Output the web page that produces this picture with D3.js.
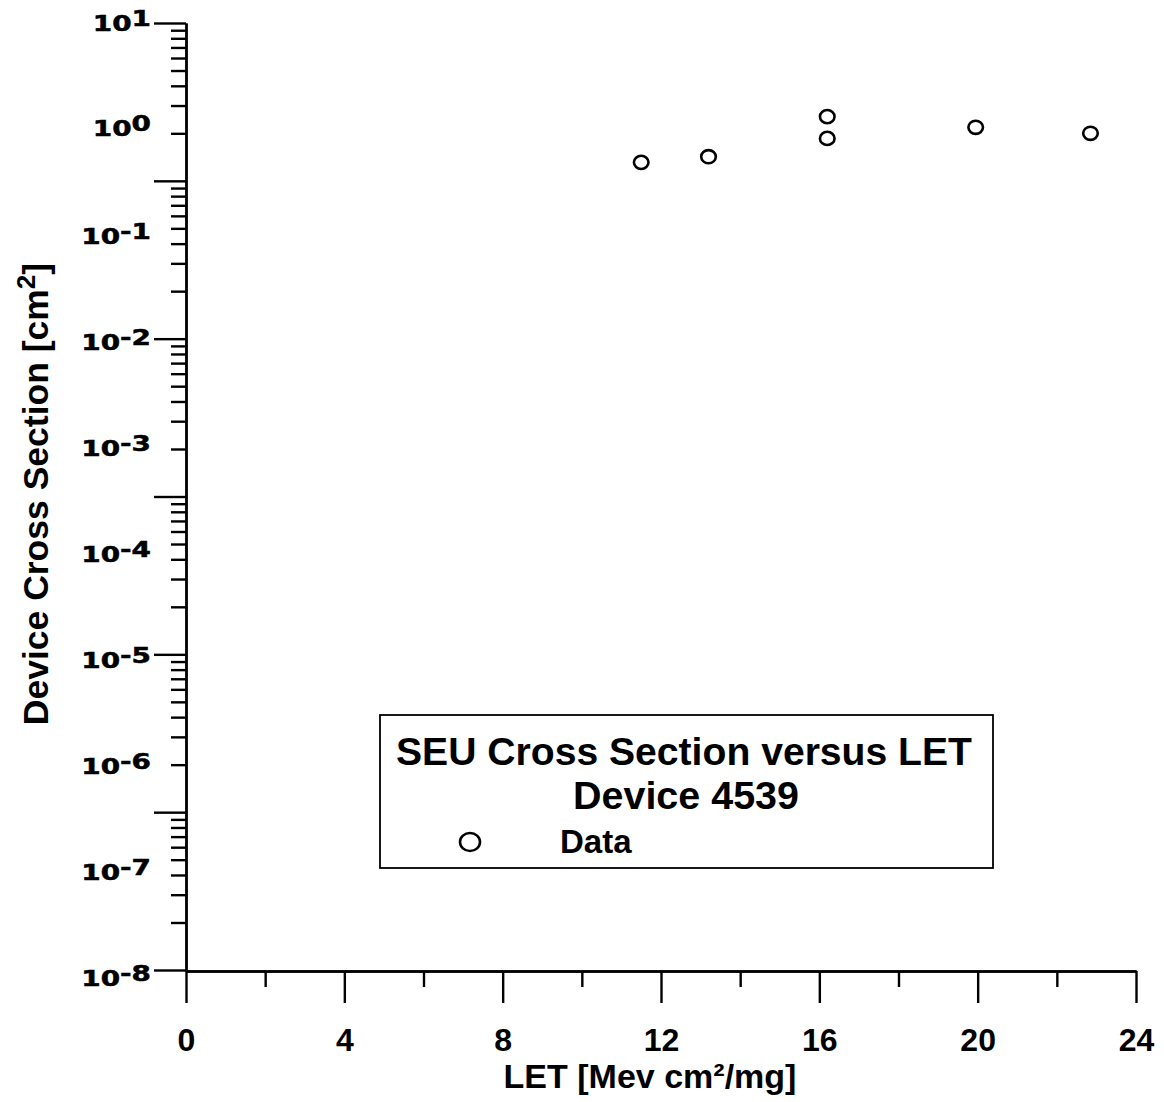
<!doctype html>
<html>
<head>
  <meta charset="UTF-8">
  <style>
    body { margin: 0; background: #fff; }
    svg { display: block; }
    .axis path, .axis line { stroke: #000; stroke-width: 2.4; }
    .xlab { font-family: "Liberation Sans", Arial, sans-serif; font-weight: bold; }
    .ylab { font-family: "DejaVu Sans", Verdana, sans-serif; font-weight: bold; stroke: #000; stroke-width: 0.5; }
  </style>
</head>
<body>
<svg width="1164" height="1102"></svg>
<script src="https://d3js.org/d3.v7.min.js"></script>
<script>

// data
const letValues = [11.5, 13.2, 16.2, 16.2, 19.95, 22.85];
const crossSection = [0.474, 0.536, 1.29, 0.80, 1.02, 0.895];

// axis ticks
const xMajorTicks = [0, 4, 8, 12, 16, 20, 24];
const xMinorTicks = [2, 6, 10, 14, 18, 22];
const yLabelExponents = [1, 0, -1, -2, -3, -4, -5, -6, -7, -8];
const yMajorExponents = [1, -0.5, -2, -3.5, -5, -6.5, -8];

const legendTitle = ["SEU Cross Section versus LET", "Device 4539"];
const legendItem = "Data";

var svg = d3.select("svg");

var x = d3.scaleLinear().domain([0, 24]).range([186, 1136]);
var y = d3.scaleLog().domain([1e-8, 1e1]).range([970, 23]);

// minor ticks: log subdivision of each 1.5 decade major step
var yMinor = [];
yMajorExponents.slice(1).forEach(function(lo) {
  for (var k = 2; k <= 9; k++) yMinor.push(Math.pow(10, lo + 1.5 * Math.log10(k)));
});

// y axis
svg.append("g").attr("class", "axis")
  .attr("transform", "translate(" + x(0) + ",0)")
  .call(d3.axisLeft(y).tickValues(yMinor).tickSize(15).tickSizeOuter(0).tickFormat(""));
svg.append("g").attr("class", "axis")
  .attr("transform", "translate(" + x(0) + ",0)")
  .call(d3.axisLeft(y).tickValues(yMajorExponents.map(e => Math.pow(10, e))).tickSize(32).tickSizeOuter(0).tickFormat(""));

// x axis
var xa = svg.append("g").attr("class", "axis")
  .attr("transform", "translate(0," + (y(1e-8) + 1) + ")")
  .call(d3.axisBottom(x).tickValues(xMinorTicks).tickSize(16).tickSizeOuter(0).tickFormat(""));
var xb = svg.append("g").attr("class", "axis")
  .attr("transform", "translate(0," + (y(1e-8) + 1) + ")")
  .call(d3.axisBottom(x).tickValues(xMajorTicks).tickSize(32).tickSizeOuter(0).tickFormat(d3.format("d")));
xb.selectAll("text")
  .attr("class", "xlab")
  .attr("y", 80).attr("dy", 0)
  .style("font-size", "32px")
  .attr("fill", "#000");

// y tick labels 10^n
var ylabs = svg.append("g").selectAll("text")
  .data(yLabelExponents)
  .enter().append("text")
  .attr("class", "ylab")
  .attr("text-anchor", "end")
  .style("font-size", "20.5px")
  .attr("transform", function(d) {
    var off = d >= 0 ? 7.5 : 9.5 + 0.85 * (-d);
    return "translate(151," + (y(Math.pow(10, d)) + off) + ") scale(1.36,1)";
  });
ylabs.append("tspan").text("10");
ylabs.append("tspan").attr("dy", -5).text(function(d) { return d; });

// axis titles
svg.append("text")
  .attr("class", "xlab")
  .attr("x", 650).attr("y", 1088)
  .attr("text-anchor", "middle")
  .style("font-size", "34px")
  .text("LET [Mev cm\u00b2/mg]");

var yt = svg.append("text")
  .attr("class", "xlab")
  .attr("text-anchor", "middle")
  .attr("transform", "translate(48,494) rotate(-90)")
  .style("font-size", "35.5px");
yt.append("tspan").text("Device Cross Section [cm");
yt.append("tspan").attr("dy", -13).style("font-size", "26px").text("2");
yt.append("tspan").attr("dy", 13).text("]");

// data points
svg.append("g").selectAll("ellipse")
  .data(letValues)
  .enter().append("ellipse")
  .attr("cx", function(d) { return x(d); })
  .attr("cy", function(d, i) { return y(crossSection[i]); })
  .attr("rx", 7.3).attr("ry", 6.6)
  .attr("fill", "none")
  .attr("stroke", "#000")
  .attr("stroke-width", 2.6);

// legend
var lg = svg.append("g");
lg.append("rect")
  .attr("x", 380).attr("y", 715).attr("width", 613).attr("height", 153)
  .attr("fill", "#fff").attr("stroke", "#000").attr("stroke-width", 1.8);
lg.append("text").attr("class", "xlab")
  .attr("x", 684).attr("y", 765).attr("text-anchor", "middle")
  .attr("textLength", 576).attr("lengthAdjust", "spacingAndGlyphs")
  .style("font-size", "38px").text(legendTitle[0]);
lg.append("text").attr("class", "xlab")
  .attr("x", 686).attr("y", 809).attr("text-anchor", "middle")
  .attr("textLength", 226).attr("lengthAdjust", "spacingAndGlyphs")
  .style("font-size", "38px").text(legendTitle[1]);
lg.append("ellipse")
  .attr("cx", 470).attr("cy", 842).attr("rx", 10).attr("ry", 9)
  .attr("fill", "none").attr("stroke", "#000").attr("stroke-width", 2.6);
lg.append("text").attr("class", "xlab")
  .attr("x", 560).attr("y", 853)
  .style("font-size", "33px").text(legendItem);

</script>
</body>
</html>
